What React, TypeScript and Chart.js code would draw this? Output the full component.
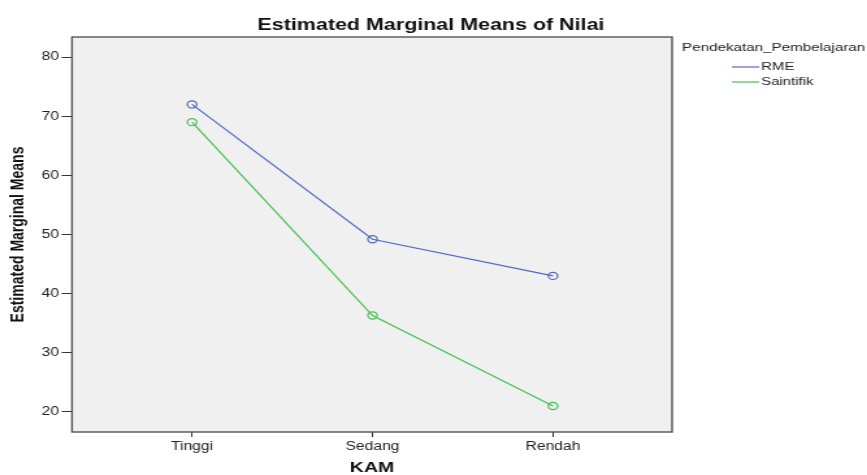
import React, { useEffect, useRef } from "react";
import { Chart, registerables } from "chart.js";

Chart.register(...registerables);

const categories = ["Tinggi", "Sedang", "Rendah"];
const rmeValues = [72.0, 49.2, 43.0];
const saintifikValues = [69.0, 36.3, 21.0];
const yTickValues = [20, 30, 40, 50, 60, 70, 80];
const seriesLabels = ["RME", "Saintifik"];
const legendTitle = "Pendekatan_Pembelajaran";
const chartTitle = "Estimated Marginal Means of Nilai";
const yTitle = "Estimated Marginal Means";
const xTitle = "KAM";

const BLUE = "#5468c2";
const GREEN = "#45c155";
const STRETCH = 1.3;
const W = 667;
const H = 475;
const FONT = "'Liberation Sans', Arial, sans-serif";

const decorPlugin = {
  id: "decor",
  beforeDatasetsDraw(chart: any) {
    const { ctx, chartArea: a } = chart;
    ctx.save();
    ctx.fillStyle = "#f0f0f0";
    ctx.fillRect(a.left, a.top, a.right - a.left, a.bottom - a.top);
    ctx.restore();
  },
  afterDatasetsDraw(chart: any) {
    const { ctx, chartArea: a } = chart;
    ctx.save();
    ctx.strokeStyle = "#555555";
    ctx.lineWidth = 1.4;
    ctx.strokeRect(a.left, a.top, a.right - a.left, a.bottom - a.top);
    // title
    ctx.fillStyle = "#111111";
    ctx.font = `bold 16.5px ${FONT}`;
    ctx.textAlign = "center";
    ctx.textBaseline = "middle";
    ctx.fillText(chartTitle, 331.5, 25);
    // legend
    ctx.font = `11.7px ${FONT}`;
    ctx.textAlign = "left";
    ctx.fillStyle = "#222222";
    ctx.fillText(legendTitle, 524.6, 48);
    const ds = chart.data.datasets;
    ds.forEach((d: any, i: number) => {
      const y = 67 + i * 15;
      ctx.strokeStyle = d.borderColor;
      ctx.lineWidth = 1.2;
      ctx.beginPath();
      ctx.moveTo(563, y);
      ctx.lineTo(584, y);
      ctx.stroke();
      ctx.fillStyle = "#222222";
      ctx.font = `11.5px ${FONT}`;
      ctx.fillText(d.label, 585.5, y);
    });
    ctx.restore();
  },
};

export default function App() {
  const ref = useRef<HTMLCanvasElement | null>(null);
  useEffect(() => {
    document.body.style.margin = "0";
    const canvas = ref.current!;
    const mk = (label: string, values: number[], color: string) => ({
      label,
      data: values.map((v, i) => ({ x: i, y: v })),
      borderColor: color,
      backgroundColor: "transparent",
      borderWidth: 1.2,
      pointRadius: 3.6,
      pointBorderWidth: 1.2,
      pointBackgroundColor: "transparent",
      pointBorderColor: color,
      tension: 0,
    });
    const chart = new Chart(canvas, {
      type: "line",
      data: {
        datasets: [
          mk(seriesLabels[0], rmeValues, BLUE),
          mk(seriesLabels[1], saintifikValues, GREEN),
        ],
      },
      options: {
        animation: false,
        responsive: false,
        devicePixelRatio: 1,
        layout: { padding: { left: 0, top: 37, right: 150, bottom: 0 } },
        plugins: {
          legend: { display: false },
          title: { display: false },
          tooltip: { enabled: false },
        },
        scales: {
          x: {
            type: "linear",
            min: -0.665,
            max: 2.66,
            afterBuildTicks(scale: any) {
              scale.ticks = categories.map((_, i) => ({ value: i }));
            },
            afterFit(scale: any) {
              scale.height = 43;
            },
            ticks: {
              autoSkip: false,
              maxRotation: 0,
              padding: 2,
              color: "#222222",
              font: { family: FONT, size: 12 },
              callback: (v: any) => categories[Math.round(Number(v))] ?? "",
            },
            grid: {
              display: true,
              drawOnChartArea: false,
              drawTicks: true,
              tickLength: 5,
              color: "#333333",
            },
            border: { display: false },
            title: {
              display: true,
              text: xTitle,
              color: "#111111",
              font: { family: FONT, size: 15, weight: "bold" },
              padding: { top: 5, bottom: -1.5 },
            },
          },
          y: {
            type: "linear",
            min: 16.6,
            max: 83.4,
            afterBuildTicks(scale: any) {
              scale.ticks = yTickValues.map((v) => ({ value: v }));
            },
            afterFit(scale: any) {
              scale.width = 55.4;
            },
            ticks: {
              padding: 2,
              color: "#222222",
              font: { family: FONT, size: 12 },
            },
            grid: {
              display: true,
              drawOnChartArea: false,
              drawTicks: true,
              tickLength: 8,
              color: "#333333",
            },
            border: { display: false },
            title: {
              display: true,
              text: yTitle,
              color: "#111111",
              font: { family: "'Liberation Sans Narrow', 'Liberation Sans', Arial, sans-serif", size: 14, weight: "bold" },
              padding: { top: 6, bottom: 0 },
            },
          },
        },
      },
      plugins: [decorPlugin],
    } as any);
    return () => chart.destroy();
  }, []);
  return (
    <div style={{ width: 867, height: H, overflow: "hidden" }}>
      <canvas
        ref={ref}
        width={W}
        height={H}
        style={{
          display: "block",
          width: W,
          height: H,
          transform: `scaleX(${STRETCH})`,
          transformOrigin: "0 0",
        }}
      />
    </div>
  );
}
